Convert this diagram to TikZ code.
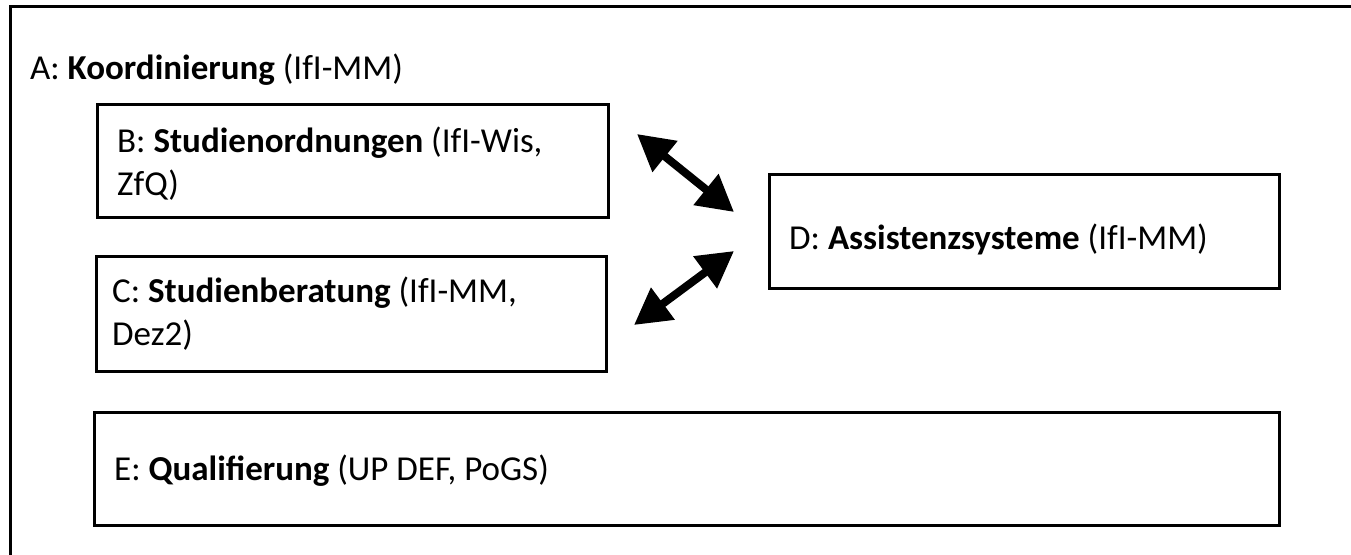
\documentclass[tikz,border=0pt]{standalone}
\usepackage{fontspec}
\setmainfont{Carlito}
\usetikzlibrary{arrows.meta,positioning}
\tikzset{
  box/.style = {draw, line width=2.5pt, inner sep=0pt, anchor=north west},
  lbl/.style = {anchor=base west, inner sep=0pt, align=left,
                font=\fontsize{35}{43}\selectfont},
  link/.style = {{Triangle[length=36pt,width=38pt]}-{Triangle[length=36pt,width=38pt]},
                 line width=8pt}
}
\begin{document}
\begin{tikzpicture}[x=1pt, y=-1pt]
   \useasboundingbox (0,0) rectangle (1351,554);
   \node[box, minimum width=1360pt, minimum height=560pt] (A) at (9,5) {};
   \node[box, minimum width=511pt, minimum height=113pt] (B) at (96,103) {};
   \node[box, minimum width=510pt, minimum height=115pt] (C) at (95,255) {};
   \node[box, minimum width=510pt, minimum height=114pt] (D) at (768,173) {};
   \node[box, minimum width=1185pt, minimum height=113pt] (E) at (93,411) {};
   % text (base = last line)
   \node[lbl] (Atext) at (30,79) {A: \textbf{Koordinierung} (IfI-MM)};
   \node[lbl] (Btext) at (117,195) {B: \textbf{Studienordnungen} (IfI-Wis,\\ZfQ)};
   \node[lbl] (Ctext) at (112,345) {C: \textbf{Studienberatung} (IfI-MM,\\Dez2)};
   \node[lbl] (Dtext) at (789,249) {D: \textbf{Assistenzsysteme} (IfI-MM)};
   \node[lbl] (Etext) at (114,480) {E: \textbf{Qualifierung} (UP DEF, PoGS)};
   \coordinate (BD1) at (637,134);
   \coordinate (BD2) at (734,212);
   \coordinate (CD1) at (734,251);
   \coordinate (CD2) at (634,325);
   \draw[link] (BD1) -- (BD2);
   \draw[link] (CD2) -- (CD1);
  \end{tikzpicture}
\end{document}
